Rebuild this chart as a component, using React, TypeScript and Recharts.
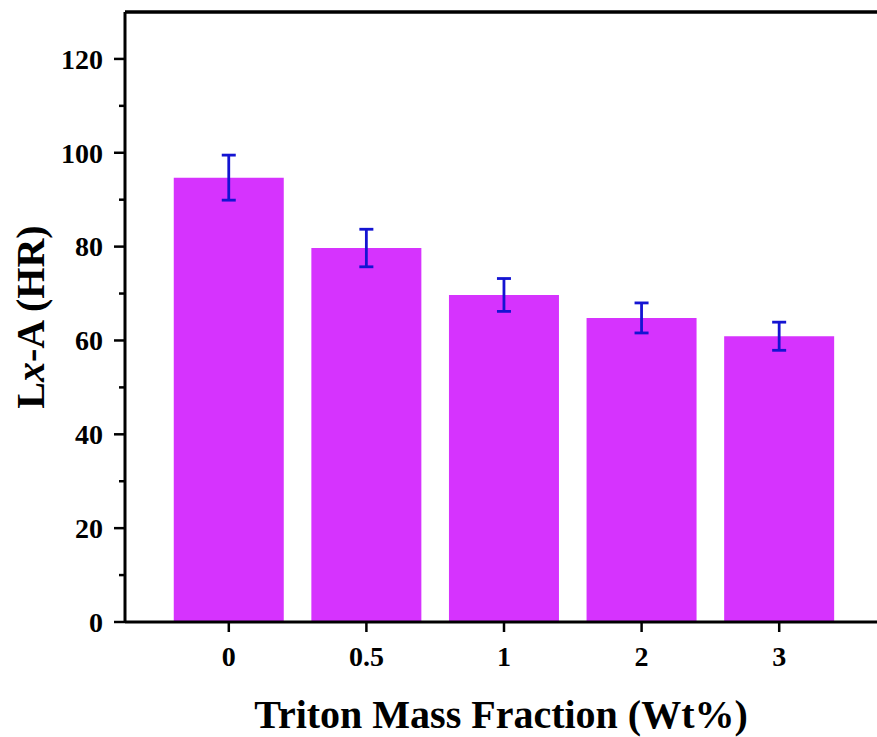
import { BarChart, Bar, XAxis, YAxis, ErrorBar, ReferenceLine, Label } from 'recharts';

// Triton mass fraction (wt%) vs. Lx-A hardness with standard deviation
const fractions = ['0', '0.5', '1', '2', '3'];
const hardness = [94.7, 79.7, 69.7, 64.8, 60.9];
const hardnessErr = [4.8, 4.0, 3.5, 3.2, 3.0];
const yTicks = [0, 10, 20, 30, 40, 50, 60, 70, 80, 90, 100, 110, 120];

const data = fractions.map((name, i) => ({ name, value: hardness[i], err: hardnessErr[i] }));

const FONT = '"Liberation Serif", "Times New Roman", serif';
const AXIS_W = 3;

// major ticks every 20 with a label, short minor ticks in between
function YTick(props: any) {
  const { x, y, payload } = props;
  const major = payload.value % 20 === 0;
  return (
    <g>
      <line x1={x + (major ? 9 : 14)} x2={x + 20} y1={y} y2={y} stroke="#000" strokeWidth={2.5} />
      {major && (
        <text
          x={x - 2}
          y={y}
          dy="0.35em"
          textAnchor="end"
          fontFamily={FONT}
          fontWeight="bold"
          fontSize={28}
          fill="#000"
        >
          {payload.value}
        </text>
      )}
    </g>
  );
}

function YTitle(props: any) {
  const { viewBox } = props;
  const cx = viewBox.x + 44;
  const cy = viewBox.y + viewBox.height / 2;
  return (
    <text
      x={cx}
      y={cy}
      transform={`rotate(-90 ${cx} ${cy})`}
      textAnchor="middle"
      fontFamily={FONT}
      fontWeight="bold"
      fontSize={40}
      fill="#000"
    >
      L<tspan fontStyle="italic">x</tspan>-A (HR)
    </text>
  );
}

export default function App() {
  return (
    <div style={{ position: 'absolute', left: 0, top: 0, width: 877, height: 737, background: '#fff' }}>
      <BarChart
        width={877}
        height={737}
        data={data}
        margin={{ top: 12, right: 0, left: 0, bottom: 0 }}
        barCategoryGap="10%"
      >
        <XAxis
          dataKey="name"
          height={115}
          padding={{ left: 35, right: 29 }}
          axisLine={{ stroke: '#000', strokeWidth: AXIS_W }}
          tickLine={{ stroke: '#000', strokeWidth: 2.5 }}
          tickSize={10}
          tickMargin={14}
          tick={{ fill: '#000', fontSize: 28, fontWeight: 'bold', fontFamily: FONT }}
        >
          <Label
            value="Triton Mass Fraction (Wt%)"
            position="insideBottom"
            offset={9}
            fill="#000"
            fontSize={40}
            fontWeight="bold"
            fontFamily={FONT}
          />
        </XAxis>
        <YAxis
          width={125}
          domain={[0, 130]}
          ticks={yTicks}
          interval={0}
          allowDataOverflow
          axisLine={{ stroke: '#000', strokeWidth: AXIS_W }}
          tickLine={false}
          tickSize={10}
          tickMargin={10}
          tick={<YTick />}
        >
          <Label content={<YTitle />} />
        </YAxis>
        <ReferenceLine y={130} stroke="#000" strokeWidth={3.5} />
        <Bar dataKey="value" fill="#d633fe" isAnimationActive={false}>
          <ErrorBar dataKey="err" width={7} stroke="#1414d2" strokeWidth={2.8} />
        </Bar>
      </BarChart>
    </div>
  );
}
